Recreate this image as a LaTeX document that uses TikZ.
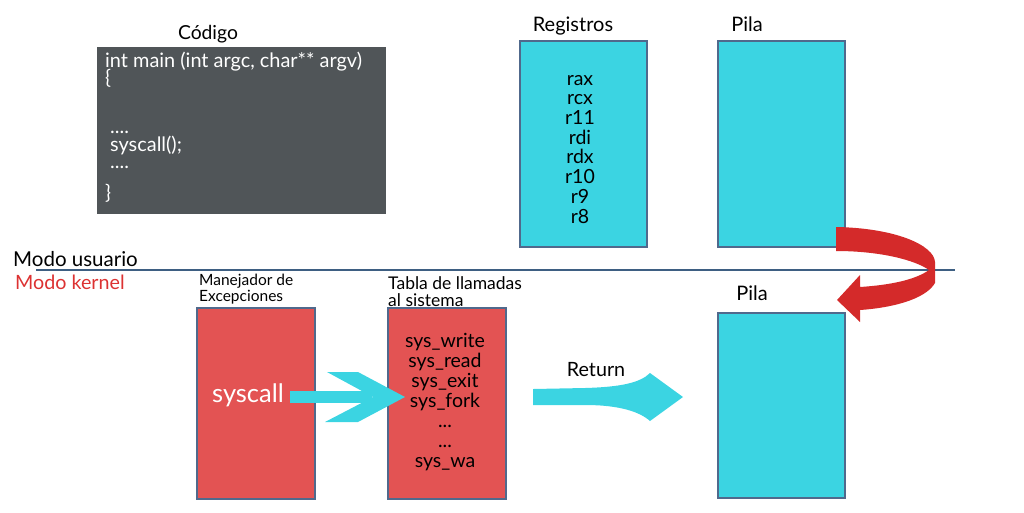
\documentclass[tikz,border=0pt]{standalone}
\usepackage{fontspec}
\setmainfont{Lato}
\usetikzlibrary{fit}
\definecolor{cyanfill}{RGB}{59,212,226}
\definecolor{redfill}{RGB}{227,83,83}
\definecolor{redarrow}{RGB}{212,42,42}
\definecolor{codegray}{RGB}{80,85,88}
\definecolor{boxedge}{RGB}{80,105,140}
\definecolor{modeline}{RGB}{62,95,130}
\definecolor{kernelred}{RGB}{220,50,50}
\tikzset{
  fsz/.style={font=\fontsize{#1}{#1}\selectfont},
  cyanbox/.style={draw=boxedge, line width=1.5pt, fill=cyanfill, inner sep=0pt},
  redbox/.style={draw=boxedge, line width=1.5pt, fill=redfill, inner sep=0pt},
  codebox/.style={fill=codegray, inner sep=0pt},
  lbl/.style={inner sep=0pt, text=black},
  codetxt/.style={inner sep=0pt, anchor=base west, text=white, fsz=19.9},
}
\begin{document}
\begin{tikzpicture}[x=1pt,y=-1pt]
\useasboundingbox (0,0) rectangle (1024,512);
% top labels
\node[lbl, fsz=19.3, anchor=base] (lcodigo) at (208,39) {Código};
\node[lbl, fsz=20, anchor=base] (lreg) at (573,31) {Registros};
\node[lbl, fsz=20, anchor=base] (lpila1) at (747,31) {Pila};
% code box
\path (97,47) coordinate (c1) (386,214) coordinate (c2);
\node[codebox, fit=(c1)(c2)] (code) {};
\node[codetxt] (cl1) at (105,67) {int main (int argc, char** argv)};
\node[codetxt] (cl2) at (105,84) {\{};
\node[codetxt] (cl3) at (110,133) {....};
\node[codetxt] (cl4) at (110,151) {syscall();};
\node[codetxt] (cl5) at (110,168) {....};
\node[codetxt] (cl6) at (105,199) {\}};
% register box
\path (520,41) coordinate (r1) (647,247) coordinate (r2);
\node[cyanbox, fit=(r1)(r2)] (reg) {};
\node[lbl, align=center, anchor=base, font=\fontsize{19.5}{19.7}\selectfont] (reglist) at (580,223) {rax\\rcx\\r11\\rdi\\rdx\\r10\\r9\\r8};
% stack top
\path (718,41) coordinate (p1) (845,247) coordinate (p2);
\node[cyanbox, fit=(p1)(p2)] (pila1) {};
% mode line and labels
\coordinate (ml) at (36,270);
\coordinate (mr) at (955,270);
\node[lbl, fsz=20.5, anchor=base west] (usuario) at (13,266) {Modo usuario};
\node[lbl, fsz=19.7, anchor=base west, text=kernelred] (kernel) at (15,289) {Modo kernel};
% kernel labels
\node[lbl, anchor=base west, align=left, font=\fontsize{15.5}{15.5}\selectfont] (lman) at (199,301) {Manejador de\\Excepciones};
\node[lbl, anchor=base west, align=left, font=\fontsize{17.5}{16.5}\selectfont] (ltab) at (388,306) {Tabla de llamadas\\al sistema};
\node[lbl, fsz=20, anchor=base] (lpila2) at (752,300) {Pila};
% red boxes
\path (197,308) coordinate (m1) (315,499) coordinate (m2);
\node[redbox, fit=(m1)(m2)] (man) {};
\path (388,308) coordinate (t1) (506,499) coordinate (t2);
\node[redbox, fit=(t1)(t2)] (tab) {};
\node[lbl, fsz=25.5, anchor=base, text=white] (sysc) at (248,402) {syscall};
\node[lbl, align=center, anchor=base, font=\fontsize{19.5}{20}\selectfont] (tablist) at (445,467) {sys\_write\\sys\_read\\sys\_exit\\sys\_fork\\...\\...\\sys\_wa};
% stack bottom
\path (718,313) coordinate (q1) (845,498) coordinate (q2);
\node[cyanbox, fit=(q1)(q2)] (pila2) {};
% the mode line
\draw[modeline, line width=1.5pt] (ml) -- (mr);
% cyan arrow syscall -> table
\fill[cyanfill] (290,391) rectangle (372,403);
\fill[cyanfill] (327,372) -- (358,372) -- (405,397) -- (358,422) -- (325,422) -- (373,397) -- cycle;
% Return arrow
\node[lbl, fsz=19.7, anchor=base] (lret) at (596,376) {Return};
\fill[cyanfill] (533,389) -- (585,388) .. controls (620,387) and (640,383) .. (650,373) -- (683,397) -- (650,421) .. controls (640,412) and (620,405) .. (585,405) -- (533,405) -- cycle;
% red curved arrow
\fill[redarrow] (836,227) .. controls (895,228) and (934,245) .. (935,262) -- (935,283) .. controls (925,300) and (890,308) .. (860,310) -- (860,322) -- (837,300) -- (860,275) -- (860,287) .. controls (890,285) and (915,280) .. (929,270) .. controls (915,260) and (880,251) .. (836,251) -- cycle;
\end{tikzpicture}
\end{document}
